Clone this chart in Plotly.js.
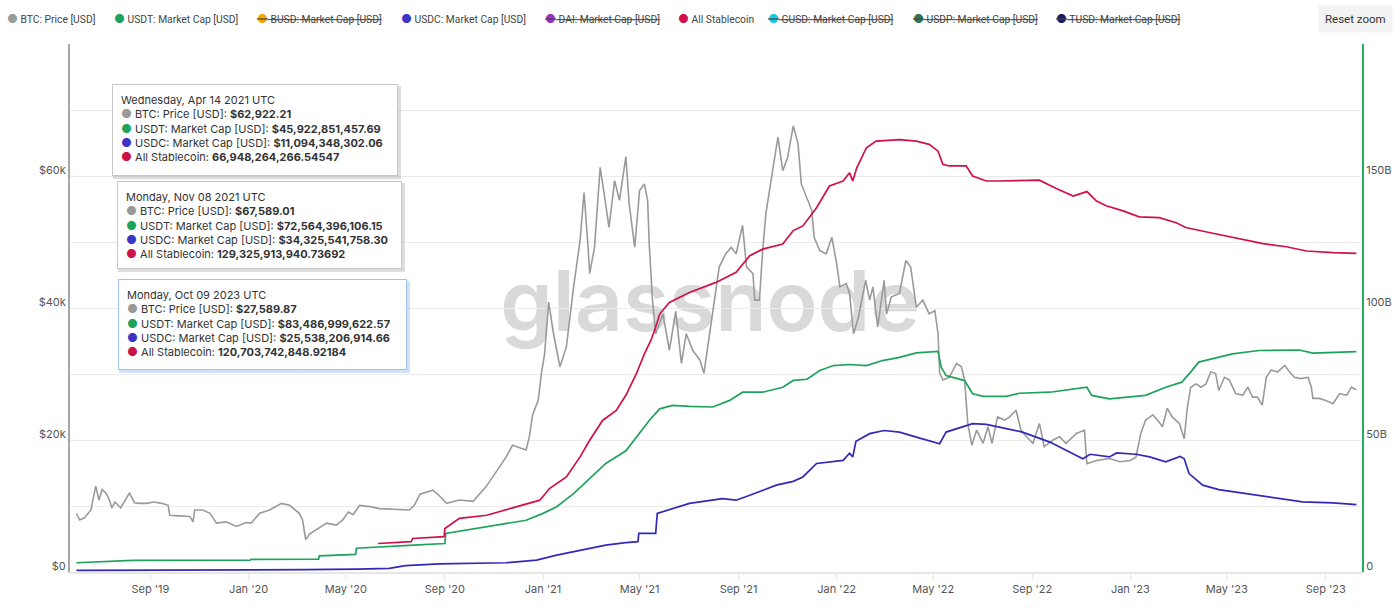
<!DOCTYPE html>
<html>
<head>
<meta charset="utf-8">
<script src="https://cdn.plot.ly/plotly-3.0.1.min.js"></script>
<style>
  html, body { margin: 0; padding: 0; background: #fff; }
  #chart { width: 1400px; height: 612px; }
</style>
</head>
<body>
<div id="chart"></div>
<script>
// BTC price, USD
let btcDates = ['2019-06-01','2019-06-05','2019-06-11','2019-06-19','2019-06-25','2019-06-29','2019-07-03','2019-07-08','2019-07-12','2019-07-15','2019-07-19','2019-07-26','2019-08-06','2019-08-12','2019-08-19','2019-08-27','2019-09-05','2019-09-15','2019-09-23','2019-09-25','2019-10-07','2019-10-20','2019-10-24','2019-10-26','2019-11-05','2019-11-14','2019-11-22','2019-12-04','2019-12-17','2019-12-29','2020-01-04','2020-01-15','2020-01-27','2020-02-11','2020-02-21','2020-03-04','2020-03-08','2020-03-12','2020-03-17','2020-03-25','2020-04-07','2020-04-19','2020-04-27','2020-05-04','2020-05-10','2020-05-18','2020-05-31','2020-06-12','2020-06-24','2020-07-07','2020-07-19','2020-07-25','2020-08-01','2020-08-17','2020-08-24','2020-09-03','2020-09-19','2020-10-06','2020-10-22','2020-11-05','2020-11-16','2020-11-24','2020-11-29','2020-12-11','2020-12-15','2020-12-19','2020-12-26','2020-12-30','2021-01-03','2021-01-08','2021-01-14','2021-01-22','2021-01-30','2021-02-08','2021-02-16','2021-02-21','2021-02-26','2021-02-28','2021-03-06','2021-03-13','2021-03-18','2021-03-24','2021-03-31','2021-04-06','2021-04-14','2021-04-18','2021-04-25','2021-05-01','2021-05-07','2021-05-11','2021-05-13','2021-05-17','2021-05-21','2021-05-30','2021-06-07','2021-06-15','2021-06-22','2021-06-28','2021-07-06','2021-07-15','2021-07-20','2021-07-27','2021-08-02','2021-08-08','2021-08-16','2021-08-23','2021-08-29','2021-09-06','2021-09-11','2021-09-19','2021-09-21','2021-09-27','2021-10-01','2021-10-05','2021-10-14','2021-10-20','2021-10-26','2021-11-01','2021-11-08','2021-11-14','2021-11-18','2021-11-25','2021-12-01','2021-12-04','2021-12-11','2021-12-19','2021-12-26','2022-01-01','2022-01-05','2022-01-13','2022-01-17','2022-01-22','2022-01-28','2022-02-06','2022-02-11','2022-02-15','2022-02-21','2022-03-01','2022-03-04','2022-03-10','2022-03-20','2022-03-28','2022-04-03','2022-04-10','2022-04-18','2022-04-26','2022-05-03','2022-05-07','2022-05-09','2022-05-13','2022-05-21','2022-05-30','2022-06-05','2022-06-09','2022-06-13','2022-06-18','2022-06-24','2022-07-02','2022-07-08','2022-07-13','2022-07-20','2022-07-29','2022-08-04','2022-08-12','2022-08-18','2022-08-25','2022-09-02','2022-09-10','2022-09-16','2022-09-27','2022-10-05','2022-10-13','2022-10-26','2022-11-05','2022-11-08','2022-11-20','2022-12-02','2022-12-06','2022-12-19','2023-01-01','2023-01-08','2023-01-14','2023-01-20','2023-01-29','2023-02-04','2023-02-10','2023-02-16','2023-02-22','2023-03-03','2023-03-09','2023-03-13','2023-03-17','2023-03-24','2023-03-30','2023-04-05','2023-04-11','2023-04-17','2023-04-21','2023-04-28','2023-05-04','2023-05-12','2023-05-21','2023-05-27','2023-06-02','2023-06-08','2023-06-14','2023-06-19','2023-06-25','2023-07-03','2023-07-12','2023-07-18','2023-07-24','2023-08-01','2023-08-10','2023-08-14','2023-08-16','2023-08-24','2023-09-01','2023-09-10','2023-09-18','2023-09-27','2023-10-03','2023-10-09'];
let btcPrice = [8900,7900,8200,9400,13000,10900,12500,11900,10900,9700,10600,9700,12000,10500,10400,10400,10600,10400,10100,8600,8500,8400,7600,9400,9400,8900,7400,7600,6900,7500,7400,8900,9400,10400,10100,8900,7900,4900,5800,6400,7400,7100,7900,9100,8700,10100,9900,9600,9500,9400,9400,10100,11800,12400,11700,10400,10900,10700,12900,15400,17400,19200,19000,18500,20500,23800,26000,30100,33100,40900,36100,31100,34100,43200,50200,57500,49200,45200,49200,61300,57300,52200,59300,56300,62922,55800,49200,57800,58800,56300,49700,41200,36100,39100,33600,39500,31600,36100,33600,32100,30100,36100,41200,46200,48200,49200,48200,52500,46200,45200,41200,41200,48700,54300,61300,65900,60800,62800,67589,64900,58800,56800,54800,50700,48700,48200,50700,46700,43200,43700,42200,36100,38600,44200,41200,43200,37100,44200,39100,41700,42200,47200,46200,40100,41200,39100,39600,36100,30100,29100,29500,31600,31100,29100,22500,19200,21500,19500,22000,19500,23500,23000,23500,24500,21500,20500,19500,22500,19000,20000,20500,19500,21000,21500,16400,16900,17200,17200,16700,16900,17400,21000,23000,23800,23000,22000,24800,23500,22500,20200,25000,28000,28500,28000,28500,30300,30100,27500,29500,29100,27000,26800,28000,26500,26500,25300,29500,30600,30300,31300,30300,29500,29300,29500,28000,26300,26300,26000,25500,27000,26800,28000,27590];

// USDT market cap, billions USD
let usdtDates = ['2019-06-01','2019-08-10','2020-01-03','2020-01-04','2020-03-28','2020-03-29','2020-05-13','2020-05-14','2020-07-24','2020-09-01','2020-09-02','2020-10-23','2020-12-11','2021-01-01','2021-01-18','2021-02-08','2021-02-28','2021-03-12','2021-03-20','2021-04-14','2021-05-01','2021-05-13','2021-05-26','2021-06-11','2021-07-02','2021-07-31','2021-08-21','2021-09-06','2021-10-01','2021-10-26','2021-11-08','2021-11-25','2021-12-11','2021-12-28','2022-01-17','2022-02-07','2022-02-27','2022-03-20','2022-04-10','2022-05-07','2022-05-11','2022-05-17','2022-06-09','2022-06-19','2022-07-02','2022-07-31','2022-08-16','2022-09-23','2022-11-08','2022-11-14','2022-12-06','2023-01-20','2023-02-14','2023-03-06','2023-03-17','2023-03-27','2023-05-08','2023-06-10','2023-07-30','2023-08-16','2023-10-09'];
let usdtCap = [3.5,4.4,4.5,4.8,4.9,6.1,6.7,9.0,10.2,10.8,14.6,17.1,19.6,22.2,24.7,29.7,35.4,39.2,41.1,45.92,52.4,57.4,61.8,63.1,62.7,62.5,65.0,68.1,68.1,70.0,72.56,73.0,76.3,78.2,78.6,78.2,80.1,81.3,83.0,83.6,77.6,74.4,72.5,67.5,66.5,66.5,67.7,68.1,70.0,66.9,65.6,66.9,70.0,71.9,75.7,79.5,82.6,83.9,84.1,82.9,83.49];

// USDC market cap, billions USD
let usdcDates = ['2019-06-01','2019-12-01','2020-03-12','2020-05-15','2020-06-24','2020-07-14','2020-08-25','2020-11-16','2020-12-24','2021-01-18','2021-02-08','2021-02-28','2021-03-20','2021-04-14','2021-04-29','2021-04-30','2021-05-21','2021-05-23','2021-06-19','2021-07-02','2021-08-12','2021-08-29','2021-09-15','2021-10-18','2021-11-08','2021-11-20','2021-12-07','2022-01-09','2022-01-17','2022-01-21','2022-01-25','2022-02-11','2022-03-01','2022-03-20','2022-04-10','2022-05-09','2022-05-17','2022-05-30','2022-06-19','2022-07-06','2022-07-22','2022-08-20','2022-09-23','2022-10-17','2022-11-03','2022-11-12','2022-12-06','2022-12-15','2023-01-08','2023-01-25','2023-02-14','2023-03-04','2023-03-09','2023-03-15','2023-04-01','2023-04-21','2023-05-29','2023-06-27','2023-08-03','2023-09-10','2023-10-09'];
let usdcCap = [0.6,0.7,0.9,1.1,1.4,2.4,3.1,3.5,4.5,6.4,7.7,9.0,10.2,11.09,11.5,14.6,14.6,22.2,24.7,26.0,27.8,27.2,29.1,32.9,34.33,36.0,41.1,42.3,45.0,43.6,49.5,52.4,53.6,53.0,51.1,48.6,53.0,54.3,56.2,55.9,54.9,53.0,49.2,45.4,42.9,44.6,43.6,45.1,44.6,43.6,41.7,43.8,42.9,37.3,32.9,31.2,29.5,28.4,26.6,26.2,25.54];

// All stablecoins, billions USD
let allDates = ['2020-06-10','2020-07-21','2020-07-23','2020-08-31','2020-09-01','2020-09-19','2020-10-23','2020-11-29','2020-12-28','2021-01-09','2021-01-30','2021-02-16','2021-02-28','2021-03-16','2021-04-02','2021-04-14','2021-04-27','2021-05-07','2021-05-15','2021-05-21','2021-05-26','2021-06-07','2021-07-02','2021-08-04','2021-08-29','2021-09-15','2021-10-01','2021-10-26','2021-11-08','2021-11-20','2021-12-07','2021-12-23','2022-01-09','2022-01-17','2022-01-21','2022-01-26','2022-02-07','2022-02-19','2022-03-20','2022-04-10','2022-04-26','2022-05-07','2022-05-13','2022-05-21','2022-06-11','2022-06-19','2022-07-06','2022-07-22','2022-08-20','2022-09-10','2022-10-01','2022-10-22','2022-11-08','2022-11-20','2022-12-02','2022-12-23','2023-01-12','2023-02-06','2023-02-27','2023-03-11','2023-04-09','2023-05-08','2023-06-15','2023-07-14','2023-08-08','2023-09-10','2023-10-09'];
let allCap = [10.8,11.5,12.7,13.4,16.5,20.3,21.5,24.7,27.2,31.6,36.0,43.6,49.9,57.4,61.2,66.95,75.1,82.6,87.7,92.7,97.7,102.1,105.9,109.7,113.5,119.8,122.3,124.2,129.33,131.1,138.0,146.2,148.1,151.2,148.1,153.1,160.7,163.2,163.8,163.2,162.0,159.4,154.4,153.8,153.8,150.0,148.1,148.1,148.4,148.4,145.3,142.4,144.1,140.5,138.7,136.8,134.5,134.2,132.3,130.5,128.6,126.7,124.4,123.2,121.6,121.0,120.70];

// legend entries (hidden ones are struck through)
let legendNames = ['BTC: Price [USD]','USDT: Market Cap [USD]','BUSD: Market Cap [USD]','USDC: Market Cap [USD]','DAI: Market Cap [USD]','All Stablecoin','GUSD: Market Cap [USD]','USDP: Market Cap [USD]','TUSD: Market Cap [USD]'];
let legendColors = ['#9a9a9a','#1fa35c','#f0a800','#3b34c4','#9b30c0','#d0104a','#19c7e0','#2e7553','#1e1a66'];
let legendHidden = [false,false,true,false,true,false,true,true,true];
let legendX = [5,112,255,399,543,676,766,911,1054];

// pinned tooltips
let tipDates = ['Wednesday, Apr 14 2021 UTC','Monday, Nov 08 2021 UTC','Monday, Oct 09 2023 UTC'];
let tipBtc = ['$62,922.21','$67,589.01','$27,589.87'];
let tipUsdt = ['$45,922,851,457.69','$72,564,396,106.15','$83,486,999,622.57'];
let tipUsdc = ['$11,094,348,302.06','$34,325,541,758.30','$25,538,206,914.66'];
let tipAll = ['66,948,264,266.54547','129,325,913,940.73692','120,703,742,848.92184'];

const W = 1400, H = 612, ML = 70, MR = 38, MT = 44, MB = 40;
function px(x) { return (x - ML) / (W - ML - MR); }
function py(y) { return (H - MB - y) / (H - MT - MB); }

const cBtc = '#9a9a9a', cUsdt = '#1fa35c', cUsdc = '#3129b8', cAll = '#d0104a';

let traces = [
    { x: btcDates, y: btcPrice, name: 'BTC: Price [USD]', mode: 'lines', line: { color: cBtc, width: 1.6 }, yaxis: 'y' },
    { x: usdtDates, y: usdtCap, name: 'USDT: Market Cap [USD]', mode: 'lines', line: { color: cUsdt, width: 1.7 }, yaxis: 'y2' },
    { x: usdcDates, y: usdcCap, name: 'USDC: Market Cap [USD]', mode: 'lines', line: { color: cUsdc, width: 1.7 }, yaxis: 'y2' },
    { x: allDates, y: allCap, name: 'All Stablecoin', mode: 'lines', line: { color: cAll, width: 1.7 }, yaxis: 'y2' }
];

function dot(c, size) {
    return "<span style='font-family:Inter;color:" + c + ";font-size:" + size + "px'>●</span>";
}

let annotations = [];
let shapes = [];

// legend row
legendNames.forEach((n, i) => {
    let t = dot(legendColors[i], 12) + ' ' + n;
    if (legendHidden[i]) t = '<s>' + t + '</s>';
    annotations.push({
        xref: 'paper', yref: 'paper', x: px(legendX[i]), y: py(19),
        xanchor: 'left', yanchor: 'middle', showarrow: false,
        text: t, font: { family: 'Roboto, sans-serif', size: 10.3, color: '#444' }
    });
});

// reset zoom button
annotations.push({
    xref: 'paper', yref: 'paper', x: px(1355), y: py(19),
    xanchor: 'center', yanchor: 'middle', showarrow: false,
    text: 'Reset zoom', bgcolor: '#f3f3f3', borderpad: 6,
    font: { family: 'Roboto, sans-serif', size: 11.5, color: '#333' }
});

// tooltip boxes
let tipBoxes = [
    { left: 112, top: 84, w: 286, h: 92, border: '#c8c8c8' },
    { left: 117, top: 181, w: 285, h: 88, border: '#c8c8c8' },
    { left: 118, top: 279, w: 289, h: 91, border: '#9cc3f2' }
];
tipBoxes.forEach((b, i) => {
    shapes.push({
        type: 'rect', xref: 'paper', yref: 'paper', layer: 'above',
        x0: px(b.left + 1), x1: px(b.left + b.w + 3), y0: py(b.top + b.h + 3), y1: py(b.top + 2),
        fillcolor: i === 2 ? 'rgba(120,170,240,0.35)' : 'rgba(0,0,0,0.13)', line: { width: 0 }
    });
    let t = tipDates[i] + '<br>' +
        dot('#999', 12) + ' BTC: Price [USD]: <b>' + tipBtc[i] + '</b><br>' +
        dot(cUsdt, 12) + ' USDT: Market Cap [USD]: <b>' + tipUsdt[i] + '</b><br>' +
        dot('#3b34c4', 12) + ' USDC: Market Cap [USD]: <b>' + tipUsdc[i] + '</b><br>' +
        dot(cAll, 12) + ' All Stablecoin: <b>' + tipAll[i] + '</b>';
    annotations.push({
        xref: 'paper', yref: 'paper', x: px(b.left), y: py(b.top),
        xanchor: 'left', yanchor: 'top', showarrow: false, align: 'left', valign: 'top',
        width: b.w - 18, height: b.h - 18, borderpad: 8, borderwidth: 1,
        bordercolor: b.border, bgcolor: '#ffffff',
        text: t, font: { family: 'Inter, sans-serif', size: 11, color: '#333' }
    });
});

// watermark, under the lines
shapes.push({
    type: 'rect', xref: 'paper', yref: 'paper', layer: 'below',
    x0: px(470), x1: px(950), y0: py(362), y1: py(232),
    fillcolor: 'rgba(0,0,0,0)', line: { width: 0 },
    label: { text: 'glassnode', textposition: 'middle center', font: { family: 'Inter, sans-serif', size: 84, weight: 600, color: '#d9d9d9' } }
});

let tickFont = { family: 'Inter, sans-serif', size: 11, color: '#555' };

let layout = {
    width: W, height: H,
    margin: { l: ML, r: MR, t: MT, b: MB },
    paper_bgcolor: '#ffffff',
    plot_bgcolor: '#ffffff',
    showlegend: false,
    hovermode: false,
    xaxis: {
        type: 'date', range: ['2019-05-24', '2023-10-16'],
        tick0: '2019-09-01', dtick: 'M4', tickformat: "%b '%y",
        showgrid: false, zeroline: false,
        showline: true, linecolor: '#e6e6e6', linewidth: 2,
        ticks: 'outside', ticklen: 6, tickcolor: '#e6e6e6',
        tickfont: tickFont
    },
    yaxis: {
        range: [0, 80000],
        tickvals: [0, 10000, 20000, 30000, 40000, 50000, 60000, 70000],
        ticktext: ['$0', '', '$20k', '', '$40k', '', '$60k', ''],
        gridcolor: '#ececec', zeroline: false,
        showline: true, linecolor: '#a6a6a6', linewidth: 2,
        ticklabelshift: -6,
        tickfont: tickFont
    },
    yaxis2: {
        overlaying: 'y', side: 'right', range: [0, 200],
        tickvals: [0, 50, 100, 150], ticktext: ['0', '50B', '100B', '150B'],
        showgrid: false, zeroline: false,
        showline: true, linecolor: '#22b060', linewidth: 2,
        ticklabelshift: -6,
        tickfont: tickFont
    },
    annotations: annotations,
    shapes: shapes
};

Plotly.newPlot('chart', traces, layout, { displayModeBar: false, staticPlot: true });
</script>
</body>
</html>
